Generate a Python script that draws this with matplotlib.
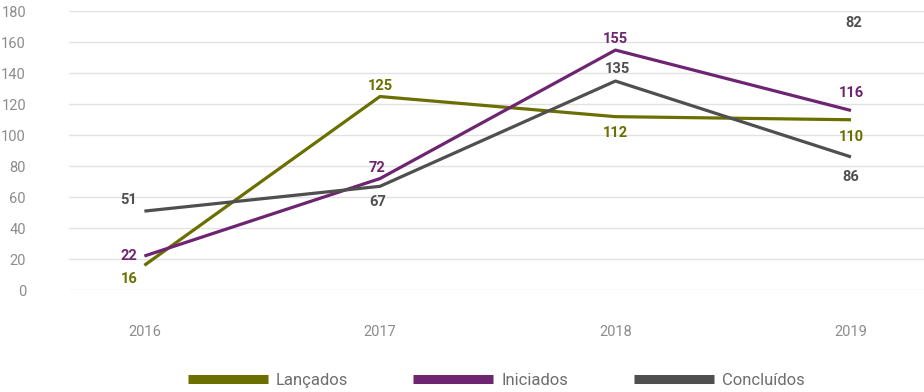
import matplotlib
matplotlib.use("Agg")
import matplotlib.pyplot as plt
import matplotlib.transforms as mtransforms
from matplotlib.lines import Line2D

# data
years = ["2016", "2017", "2018", "2019"]
lancados = [16, 125, 112, 110]
iniciados = [22, 72, 155, 116]
concluidos = [51, 67, 135, 86]
series_names = ["Lançados", "Iniciados", "Concluídos"]
stray_label = "82"  # loose label shown at top of the 2019 column

colors = ["#6b6f00", "#6d2571", "#4f4f4f"]
# label offsets in pixels (dx, dy) for each point
offsets = [
    [(-15, -14), (0, 11), (0, -16), (0, -17)],
    [(-16, 0), (-3, 11), (0, 11), (0, 17)],
    [(-16, 11), (-2, -16), (2, 12), (0, -20)],
]

plt.rcParams['font.family'] = ['Roboto', 'DejaVu Sans']
fig = plt.figure(figsize=(9.24, 3.92), dpi=100)
ax = fig.add_axes([0.0747, 0.26, 0.9253, 0.711])

x = list(range(len(years)))
for name, vals, c, offs in zip(series_names, [lancados, iniciados, concluidos], colors, offsets):
    ax.plot(x, vals, color=c, lw=2.3, solid_capstyle='butt', zorder=3)
    for xi, v, (dx, dy) in zip(x, vals, offs):
        ax.annotate(str(v), (xi, v), xytext=(dx * 0.72, dy * 0.72), textcoords='offset points',
                    ha='center', va='center', color=c, fontsize=10.5, fontweight='bold')

trans = mtransforms.blended_transform_factory(ax.transData, ax.transAxes)
ax.text(x[-1] + 0.01, 0.96, stray_label, transform=trans, ha='center', va='center',
        color=colors[2], fontsize=10.5, fontweight='bold')

ax.set_xlim(-0.32, 3.31)
ax.set_ylim(0, 180)
ax.set_yticks(range(0, 181, 20))
ax.set_xticks(x)
ax.set_xticklabels(years)
ax.grid(axis='y', color='#e2e2e2', lw=1)
ax.set_axisbelow(True)
for s in ax.spines.values():
    s.set_visible(False)
ax.tick_params(axis='y', length=0, pad=31, labelsize=10.5, labelcolor='#8c8c8c')
ax.tick_params(axis='x', length=0, pad=25, labelsize=10.5, labelcolor='#8c8c8c')

handles = [Line2D([0], [0], color=c, lw=6.5, solid_capstyle='butt') for c in colors]
leg = fig.legend(handles, series_names, loc='center', bbox_to_anchor=(0.537, 0.03), ncol=3,
                 frameon=False, handlelength=4.8, handletextpad=0.5, columnspacing=3.9,
                 fontsize=12)
for t in leg.get_texts():
    t.set_color('#6e6e6e')

fig.savefig("out.png", dpi=100)
